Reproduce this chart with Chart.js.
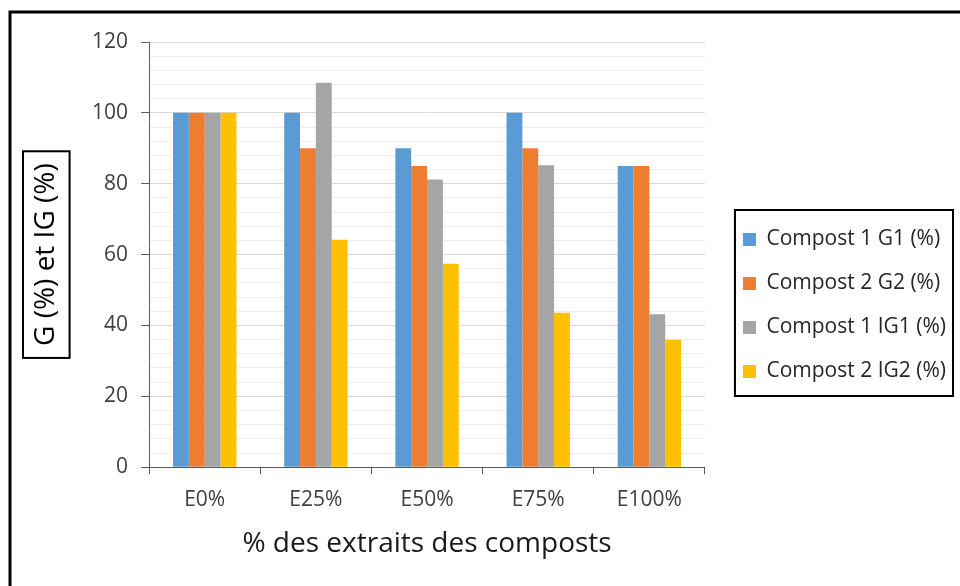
<!DOCTYPE html>
<html>
<head>
<meta charset="utf-8">
<script src="https://cdn.jsdelivr.net/npm/chart.js@4.4.1/dist/chart.umd.min.js"></script>
<style>
  html, body { margin: 0; padding: 0; background: #fff; }
  #wrap { width: 960px; height: 586px; position: relative; }
</style>
</head>
<body>
<div id="wrap"><canvas id="myChart"></canvas></div>
<script>
// data
var categories = ["E0%", "E25%", "E50%", "E75%", "E100%"];
var g1 = [100, 100, 90, 100, 85];
var g2 = [100, 90, 85, 90, 85];
var ig1 = [100, 108.5, 81.2, 85.2, 43.2];
var ig2 = [100, 64.2, 57.4, 43.6, 36];
var seriesNames = ["Compost 1 G1 (%)", "Compost 2 G2 (%)", "Compost 1 IG1 (%)", "Compost 2 IG2 (%)"];
var seriesColors = ["#5B9BD5", "#ED7D31", "#A5A5A5", "#FFC000"];

var FONT = "'Open Sans', sans-serif";

// frame, y title box and legend box
var boxes = {
	id: "boxes",
	afterDraw: function(chart) {
		var ctx = chart.ctx;
		ctx.save();
		ctx.strokeStyle = "#000";

		//outer frame (only left and top show)
		ctx.lineWidth = 3;
		ctx.beginPath();
		ctx.moveTo(10, 586);
		ctx.lineTo(10, 12);
		ctx.lineTo(960, 12);
		ctx.stroke();

		//box round the y title
		var y = chart.scales.y;
		var t = y.options.title;
		var lh = t.font.size * 1.2;
		var w = lh + 2 * t.padding.top;
		ctx.font = t.font.size + "px " + FONT;
		var tw = ctx.measureText(t.text).width;
		var cy = (y.top + y.bottom) / 2;
		ctx.lineWidth = 2;
		ctx.strokeRect(y.left + 1, cy - tw / 2 - 12, w - 2, tw + 24);

		//box round the legend
		var hb = chart.legend.legendHitBoxes;
		if (hb && hb.length) {
			var l = hb[0].left, r = 0;
			for (var i = 0; i < hb.length; i++) {
				l = Math.min(l, hb[i].left);
				r = Math.max(r, hb[i].left + hb[i].width);
			}
			var top = hb[0].top - 19;
			var bot = hb[hb.length - 1].top + hb[hb.length - 1].height + 14;
			ctx.strokeRect(l - 8, top, r - l + 15, bot - top);
		}
		ctx.restore();
	}
};

var ctx = document.getElementById("myChart").getContext("2d");
var chart = new Chart(ctx, {
	type: "bar",
	data: {
		labels: categories,
		datasets: [
			{ label: seriesNames[0], data: g1, backgroundColor: seriesColors[0] },
			{ label: seriesNames[1], data: g2, backgroundColor: seriesColors[1] },
			{ label: seriesNames[2], data: ig1, backgroundColor: seriesColors[2] },
			{ label: seriesNames[3], data: ig2, backgroundColor: seriesColors[3] }
		]
	},
	options: {
		responsive: true,
		maintainAspectRatio: false,
		animation: false,
		events: [],
		datasets: {
			bar: { categoryPercentage: 0.57, barPercentage: 1, borderWidth: 0 }
		},
		layout: { padding: { left: 22, top: 42, right: 4, bottom: 17 } },
		plugins: {
			tooltip: { enabled: false },
			legend: {
				position: "right",
				maxWidth: 280,
				labels: {
					boxWidth: 13,
					boxHeight: 13,
					padding: 23,
					color: "#262626",
					font: { family: FONT, size: 21 }
				}
			}
		},
		scales: {
			x: {
				grid: { drawOnChartArea: false, drawTicks: true, tickLength: 7, color: "#595959" },
				border: { color: "#595959", width: 1 },
				ticks: { color: "#404040", padding: 13, font: { family: FONT, size: 21 } },
				title: {
					display: true,
					text: "% des extraits des composts",
					color: "#1a1a1a",
					font: { family: FONT, size: 28 },
					padding: { top: 2, bottom: 8 }
				}
			},
			y: {
				min: 0,
				max: 120,
				ticks: {
					stepSize: 4,
					autoSkip: false,
					padding: 13,
					color: "#404040",
					font: { family: FONT, size: 21 },
					callback: function(v) { return v % 20 === 0 ? v : ""; }
				},
				grid: {
					tickLength: 8,
					color: function(c) { return c.tick && c.tick.value % 20 === 0 ? "#d9d9d9" : "#eeeeee"; },
					tickColor: function(c) { return c.tick && c.tick.value % 20 === 0 ? "#595959" : "rgba(0,0,0,0)"; }
				},
				border: { color: "#595959", width: 1 },
				title: {
					display: true,
					text: "G (%) et IG (%)",
					color: "#000",
					font: { family: FONT, size: 28 },
					padding: { top: 7.5, bottom: 16 }
				}
			},
			gap: {
				type: "linear",
				position: "right",
				display: true,
				grid: { display: false },
				ticks: { display: false },
				border: { display: false },
				afterFit: function(s) { s.width = 15; }
			}
		}
	},
	plugins: [boxes]
});
</script>
</body>
</html>
